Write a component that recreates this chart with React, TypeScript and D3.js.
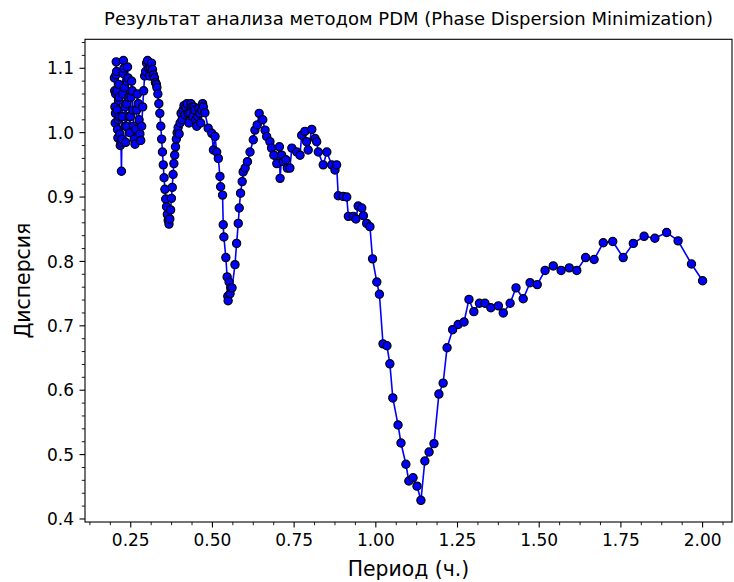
import React from "react";
import * as d3 from "d3";

const periods: number[] = [
  0.2000, 0.2008, 0.2016, 0.2024, 0.2032, 0.2040, 0.2048, 0.2056, 0.2066, 0.2076,
  0.2086, 0.2096, 0.2106, 0.2116, 0.2126, 0.2136, 0.2146, 0.2156, 0.2166, 0.2180,
  0.2200, 0.2215, 0.2228, 0.2240, 0.2252, 0.2264, 0.2276, 0.2290, 0.2304, 0.2318,
  0.2332, 0.2346, 0.2360, 0.2374, 0.2388, 0.2402, 0.2418, 0.2436, 0.2454, 0.2472,
  0.2490, 0.2508, 0.2526, 0.2546, 0.2566, 0.2586, 0.2606, 0.2630, 0.2655, 0.2680,
  0.2705, 0.2730, 0.2755, 0.2780, 0.2805, 0.2835, 0.2865, 0.2895, 0.2925, 0.2955,
  0.2985, 0.3015, 0.3045, 0.3075, 0.3105, 0.3135, 0.3165, 0.3195, 0.3225, 0.3255,
  0.3285, 0.3300, 0.3330, 0.3360, 0.3390, 0.3420, 0.3445, 0.3470, 0.3495, 0.3520,
  0.3545, 0.3570, 0.3595, 0.3620, 0.3645, 0.3670, 0.3695, 0.3720, 0.3745, 0.3770,
  0.3795, 0.3820, 0.3845, 0.3870, 0.3895, 0.3920, 0.3950, 0.3980, 0.4010, 0.4040,
  0.4070, 0.4100, 0.4130, 0.4160, 0.4190, 0.4220, 0.4250, 0.4280, 0.4310, 0.4340,
  0.4370, 0.4400, 0.4430, 0.4460, 0.4490, 0.4520, 0.4550, 0.4580, 0.4610, 0.4640,
  0.4670, 0.4700, 0.4720, 0.4770, 0.4870, 0.4980, 0.5030, 0.5080, 0.5130, 0.5180,
  0.5230, 0.5250, 0.5310, 0.5330, 0.5350, 0.5410, 0.5450, 0.5470, 0.5480, 0.5510,
  0.5540, 0.5560, 0.5600, 0.5690, 0.5740, 0.5790, 0.5820, 0.5860, 0.5910, 0.5940,
  0.6000, 0.6070, 0.6150, 0.6250, 0.6300, 0.6370, 0.6430, 0.6540, 0.6610, 0.6660,
  0.6760, 0.6810, 0.6880, 0.6970, 0.7050, 0.7070, 0.7120, 0.7170, 0.7250, 0.7290,
  0.7370, 0.7430, 0.7580, 0.7680, 0.7730, 0.7830, 0.7880, 0.7930, 0.8040, 0.8140,
  0.8190, 0.8240, 0.8390, 0.8500, 0.8650, 0.8750, 0.8800, 0.8850, 0.9000, 0.9110,
  0.9160, 0.9310, 0.9390, 0.9460, 0.9570, 0.9620, 0.9720, 0.9820, 0.9900, 1.0030,
  1.0110, 1.0220, 1.0340, 1.0430, 1.0520, 1.0680, 1.0770, 1.0920, 1.1010, 1.1140,
  1.1260, 1.1380, 1.1500, 1.1630, 1.1780, 1.1930, 1.2060, 1.2180, 1.2350, 1.2520,
  1.2700, 1.2850, 1.3000, 1.3170, 1.3340, 1.3520, 1.3750, 1.3900, 1.4110, 1.4290,
  1.4510, 1.4720, 1.4940, 1.5180, 1.5430, 1.5670, 1.5920, 1.6150, 1.6420, 1.6680,
  1.6960, 1.7250, 1.7570, 1.7880, 1.8210, 1.8540, 1.8900, 1.9250, 1.9660, 2.0000,
];

const dispersion: number[] = [
  1.085, 1.065, 1.040, 1.015, 1.030, 1.060, 1.090, 1.110, 1.095, 1.065,
  1.035, 1.005, 0.992, 1.020, 1.050, 1.075, 1.055, 1.025, 0.998, 0.980,
  0.985, 0.940, 0.990, 1.025, 1.060, 1.092, 1.112, 1.100, 1.070, 1.040,
  1.010, 0.985, 1.010, 1.045, 1.080, 1.102, 1.085, 1.055, 1.025, 1.000,
  1.025, 1.055, 1.080, 1.065, 1.035, 1.010, 0.990, 0.982, 1.005, 1.035,
  1.060, 1.045, 1.020, 0.998, 0.988, 1.010, 1.040, 1.065, 1.088, 1.095,
  1.108, 1.112, 1.100, 1.088, 1.100, 1.108, 1.098, 1.090, 1.085, 1.078,
  1.075, 1.070, 1.060, 1.045, 1.030, 1.010, 0.990, 0.970, 0.950, 0.930,
  0.912, 0.897, 0.885, 0.873, 0.864, 0.858, 0.866, 0.880, 0.898, 0.915,
  0.935, 0.952, 0.965, 0.978, 0.990, 1.000, 1.008, 0.998, 1.015, 1.030,
  1.020, 1.035, 1.042, 1.028, 1.040, 1.045, 1.030, 1.015, 1.030, 1.045,
  1.040, 1.025, 1.040, 1.035, 1.020, 1.010, 1.025, 1.038, 1.030, 1.015,
  1.035, 1.045, 1.040, 1.031, 1.007, 0.999, 0.973, 0.994, 0.970, 0.960,
  0.932, 0.916, 0.903, 0.857, 0.838, 0.806, 0.776, 0.746, 0.739, 0.768,
  0.750, 0.759, 0.759, 0.795, 0.828, 0.859, 0.883, 0.906, 0.924, 0.939,
  0.945, 0.955, 0.970, 0.989, 1.004, 1.012, 1.030, 1.020, 1.004, 0.994,
  0.986, 0.976, 0.965, 0.952, 0.978, 0.929, 0.965, 0.955, 0.958, 0.945,
  0.945, 0.976, 0.970, 0.965, 0.996, 1.002, 0.986, 0.973, 1.005, 0.991,
  0.986, 0.970, 0.950, 0.970, 0.950, 0.942, 0.950, 0.902, 0.901, 0.900,
  0.870, 0.870, 0.866, 0.886, 0.883, 0.871, 0.859, 0.854, 0.804, 0.768,
  0.749, 0.672, 0.669, 0.641, 0.588, 0.546, 0.518, 0.485, 0.459, 0.464,
  0.451, 0.429, 0.490, 0.504, 0.517, 0.594, 0.611, 0.666, 0.694, 0.702,
  0.706, 0.741, 0.722, 0.735, 0.735, 0.728, 0.731, 0.720, 0.735, 0.759,
  0.742, 0.767, 0.764, 0.786, 0.793, 0.786, 0.790, 0.786, 0.806, 0.803,
  0.829, 0.831, 0.806, 0.828, 0.839, 0.836, 0.845, 0.832, 0.796, 0.770,
];

const xTicks: number[] = [0.25, 0.5, 0.75, 1.0, 1.25, 1.5, 1.75, 2.0];
const yTicks: number[] = [0.4, 0.5, 0.6, 0.7, 0.8, 0.9, 1.0, 1.1];

const TITLE = "Результат анализа методом PDM (Phase Dispersion Minimization)";
const X_LABEL = "Период (ч.)";
const Y_LABEL = "Дисперсия";

export default function App() {
  const W = 734;
  const H = 582;
  const left = 85;
  const right = 732;
  const top = 39.3;
  const bottom = 522;
  const font = "'DejaVu Sans', sans-serif";

  const x = d3.scaleLinear().domain([0.11, 2.09]).range([left, right]);
  const y = d3.scaleLinear().domain([0.3953, 1.145]).range([bottom, top]);

  const data: [number, number][] = periods.map((p, i) => [p, dispersion[i]]);
  const line = d3
    .line<[number, number]>()
    .x((d) => x(d[0]))
    .y((d) => y(d[1]));

  const xMinor = d3
    .range(0, 40)
    .map((i) => 0.125 + i * 0.0625)
    .filter((v) => v > 0.11 && v < 2.09)
    .filter((v) => !xTicks.some((t) => Math.abs(t - v) < 1e-6));
  const yMinor = d3
    .range(0, 50)
    .map((i) => 0.4 + i * 0.02)
    .filter((v) => v > 0.3953 && v < 1.145)
    .filter((v) => !yTicks.some((t) => Math.abs(t - v) < 1e-6));

  return (
    <svg
      width={W}
      height={H}
      style={{ position: "absolute", left: 0, top: 0, background: "#fff" }}
      fontFamily={font}
    >
      <rect x={0} y={0} width={W} height={H} fill="#fff" />
      <text x={(left + right) / 2} y={25} textAnchor="middle" fontSize={18} fill="#000">
        {TITLE}
      </text>
      <path d={line(data) || ""} fill="none" stroke="#0000ff" strokeWidth={1.6} />
      {data.map((d, i) => (
        <circle key={i} cx={x(d[0])} cy={y(d[1])} r={4.1} fill="#0000ff" stroke="#000" strokeWidth={1.2} />
      ))}
      <rect x={left} y={top} width={right - left} height={bottom - top} fill="none" stroke="#000" strokeWidth={1.1} />
      {xTicks.map((t) => (
        <g key={"xt" + t}>
          <line x1={x(t)} x2={x(t)} y1={bottom} y2={bottom + 5.5} stroke="#000" strokeWidth={1.1} />
          <text x={x(t)} y={bottom + 24} textAnchor="middle" fontSize={17} fill="#000">
            {t.toFixed(2)}
          </text>
        </g>
      ))}
      {xMinor.map((t) => (
        <line key={"xm" + t} x1={x(t)} x2={x(t)} y1={bottom} y2={bottom + 3.2} stroke="#000" strokeWidth={0.9} />
      ))}
      {yTicks.map((t) => (
        <g key={"yt" + t}>
          <line x1={left - 5.5} x2={left} y1={y(t)} y2={y(t)} stroke="#000" strokeWidth={1.1} />
          <text x={left - 11} y={y(t)} dy="0.36em" textAnchor="end" fontSize={17} fill="#000">
            {t.toFixed(1)}
          </text>
        </g>
      ))}
      {yMinor.map((t) => (
        <line key={"ym" + t} x1={left - 3.2} x2={left} y1={y(t)} y2={y(t)} stroke="#000" strokeWidth={0.9} />
      ))}
      <text x={(left + right) / 2} y={576} textAnchor="middle" fontSize={20.4} fill="#000">
        {X_LABEL}
      </text>
      <text
        transform={`translate(30, ${(top + bottom) / 2}) rotate(-90)`}
        textAnchor="middle"
        fontSize={20.4}
        fill="#000"
      >
        {Y_LABEL}
      </text>
    </svg>
  );
}
